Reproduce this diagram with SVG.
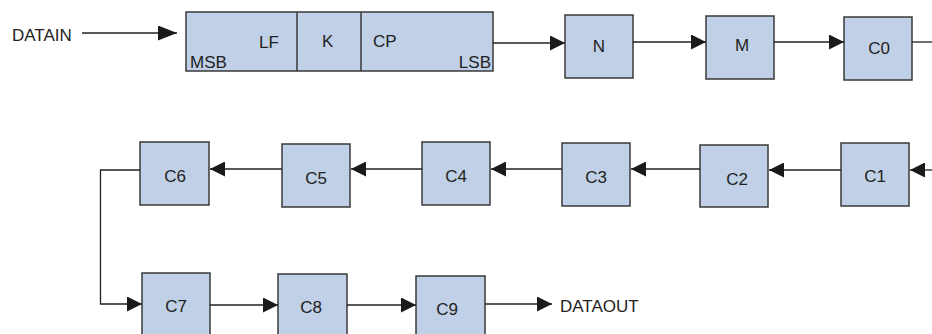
<svg xmlns="http://www.w3.org/2000/svg" width="932" height="334" viewBox="0 0 932 334">
<style>
.box{fill:#c0d0e6;stroke:#3a3a3a;stroke-width:1.5}
.div{stroke:#3a3a3a;stroke-width:1.5}
.lbl{font-family:"Liberation Sans",Arial,sans-serif;font-size:17px;fill:#222}
.mid{text-anchor:middle}
.end{text-anchor:end}
.ln{fill:none;stroke:#222;stroke-width:1.3}
</style>
<defs>
<marker id="ah" viewBox="0 0 15 15" refX="15" refY="7.5" markerWidth="15" markerHeight="15" markerUnits="userSpaceOnUse" orient="auto">
<path d="M0,0 L15,7.5 L0,15 z" fill="#1a1a1a"/>
</marker>
<marker id="ahL" viewBox="0 0 19 15" refX="19" refY="7.5" markerWidth="19" markerHeight="15" markerUnits="userSpaceOnUse" orient="auto">
<path d="M0,0 L19,7.5 L0,15 z" fill="#1a1a1a"/>
</marker>
</defs>
<text class="lbl" x="12" y="41">DATAIN</text>
<g id="register">
<rect class="box" x="186" y="12" width="307" height="59"/>
<line class="div" x1="297" y1="12" x2="297" y2="71"/>
<line class="div" x1="361" y1="12" x2="361" y2="71"/>
<text class="lbl" x="259" y="48">LF</text>
<text class="lbl" x="322" y="47">K</text>
<text class="lbl" x="373" y="47">CP</text>
<text class="lbl" x="190" y="68">MSB</text>
<text class="lbl end" x="491" y="68">LSB</text>
</g>
<g id="N"><rect class="box" x="565" y="15" width="68" height="63"/><text class="lbl mid" x="599" y="52">N</text></g>
<g id="M"><rect class="box" x="706" y="16" width="68" height="63"/><text class="lbl mid" x="742" y="51">M</text></g>
<g id="C0"><rect class="box" x="844" y="17" width="68" height="63"/><text class="lbl mid" x="879" y="54">C0</text></g>
<g id="C1"><rect class="box" x="841" y="143" width="68" height="63"/><text class="lbl mid" x="875" y="182">C1</text></g>
<g id="C2"><rect class="box" x="700" y="145" width="68" height="62"/><text class="lbl mid" x="737" y="185">C2</text></g>
<g id="C3"><rect class="box" x="562" y="143" width="68" height="63"/><text class="lbl mid" x="596" y="183">C3</text></g>
<g id="C4"><rect class="box" x="422" y="142" width="68" height="63"/><text class="lbl mid" x="456" y="182">C4</text></g>
<g id="C5"><rect class="box" x="282" y="144" width="68" height="63"/><text class="lbl mid" x="316" y="184">C5</text></g>
<g id="C6"><rect class="box" x="140" y="142" width="69" height="63"/><text class="lbl mid" x="175" y="182">C6</text></g>
<g id="C7"><rect class="box" x="142" y="273" width="68" height="63"/><text class="lbl mid" x="176" y="312">C7</text></g>
<g id="C8"><rect class="box" x="278" y="274" width="69" height="62"/><text class="lbl mid" x="311" y="313">C8</text></g>
<g id="C9"><rect class="box" x="416" y="276" width="69" height="62"/><text class="lbl mid" x="447" y="315">C9</text></g>
<text class="lbl" x="560" y="312">DATAOUT</text>
<g id="connectors">
<line class="ln" x1="82" y1="33" x2="177" y2="33" marker-end="url(#ahL)"/>
<line class="ln" x1="493" y1="43" x2="565" y2="43" marker-end="url(#ah)"/>
<line class="ln" x1="633" y1="42" x2="706" y2="42" marker-end="url(#ah)"/>
<line class="ln" x1="774" y1="42" x2="844" y2="42" marker-end="url(#ah)"/>
<line class="ln" x1="912" y1="42" x2="932" y2="42"/>
<line class="ln" x1="932" y1="170" x2="910" y2="170" marker-end="url(#ah)"/>
<line class="ln" x1="841" y1="170" x2="769" y2="170" marker-end="url(#ah)"/>
<line class="ln" x1="700" y1="169" x2="631" y2="169" marker-end="url(#ah)"/>
<line class="ln" x1="562" y1="169" x2="491" y2="169" marker-end="url(#ah)"/>
<line class="ln" x1="422" y1="169" x2="351" y2="169" marker-end="url(#ah)"/>
<line class="ln" x1="282" y1="169" x2="210" y2="169" marker-end="url(#ah)"/>
<polyline class="ln" points="140,170 100.5,170 100.5,304 142,304" marker-end="url(#ah)"/>
<line class="ln" x1="210" y1="305" x2="278" y2="305" marker-end="url(#ah)"/>
<line class="ln" x1="347" y1="305" x2="416" y2="305" marker-end="url(#ah)"/>
<line class="ln" x1="485" y1="304" x2="552" y2="304" marker-end="url(#ah)"/>
</g>
</svg>
